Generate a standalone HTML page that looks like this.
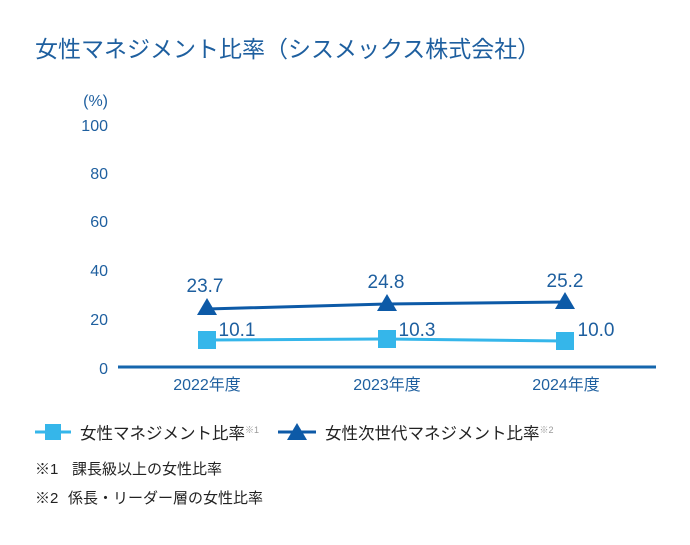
<!DOCTYPE html>
<html><head><meta charset="utf-8"><style>
body{margin:0;width:690px;height:540px;background:#fff;overflow:hidden}
svg text{font-family:"Liberation Sans","Noto Sans CJK JP",sans-serif}
</style></head><body>
<svg width="690" height="540" xmlns="http://www.w3.org/2000/svg">
<text x="35" y="57" font-size="23" fill="#1e5f9f">女性マネジメント比率（シスメックス株式会社）</text>
<g font-size="16" fill="#1e5f9f" text-anchor="end">
<text x="108" y="106">(%)</text>
<text x="108" y="131">100</text>
<text x="108" y="179">80</text>
<text x="108" y="227">60</text>
<text x="108" y="276">40</text>
<text x="108" y="325">20</text>
<text x="108" y="374">0</text>
</g>
<line x1="118" y1="367" x2="656" y2="367" stroke="#1566ad" stroke-width="3"/>
<g font-size="16" fill="#1e5f9f" text-anchor="middle">
<text x="207" y="390">2022年度</text>
<text x="387" y="390">2023年度</text>
<text x="566" y="390">2024年度</text>
</g>
<polyline points="207,340 387,339 565,341" fill="none" stroke="#35b6ea" stroke-width="3"/>
<g fill="#35b6ea">
<rect x="198" y="331" width="18" height="18"/>
<rect x="378" y="330" width="18" height="18"/>
<rect x="556" y="332" width="18" height="18"/>
</g>
<polyline points="207,309 387,304 565,302" fill="none" stroke="#0d5aa7" stroke-width="3"/>
<g fill="#0d5aa7">
<polygon points="207,298 197,315 217,315"/>
<polygon points="387,294 377,311 397,311"/>
<polygon points="565,292 555,309 575,309"/>
</g>
<g font-size="19" fill="#1e5f9f" text-anchor="middle">
<text x="205" y="292">23.7</text>
<text x="386" y="288">24.8</text>
<text x="565" y="287">25.2</text>
<text x="237" y="336">10.1</text>
<text x="417" y="336">10.3</text>
<text x="596" y="336">10.0</text>
</g>
<line x1="35" y1="432" x2="71" y2="432" stroke="#35b6ea" stroke-width="3"/>
<rect x="45" y="424" width="16" height="16" fill="#35b6ea"/>
<text x="80" y="439" font-size="16.5" fill="#222">女性マネジメント比率<tspan font-size="9" fill="#999" dy="-6">※1</tspan></text>
<line x1="278" y1="432" x2="316" y2="432" stroke="#0d5aa7" stroke-width="3"/>
<polygon points="297,423 287,440 307,440" fill="#0d5aa7"/>
<text x="325" y="439" font-size="16.5" fill="#222">女性次世代マネジメント比率<tspan font-size="9" fill="#999" dy="-6">※2</tspan></text>
<text x="35" y="474" font-size="15" fill="#222">※1<tspan x="72">課長級以上の女性比率</tspan></text>
<text x="35" y="503" font-size="15" fill="#222">※2<tspan x="68">係長・リーダー層の女性比率</tspan></text>
</svg>
</body></html>
